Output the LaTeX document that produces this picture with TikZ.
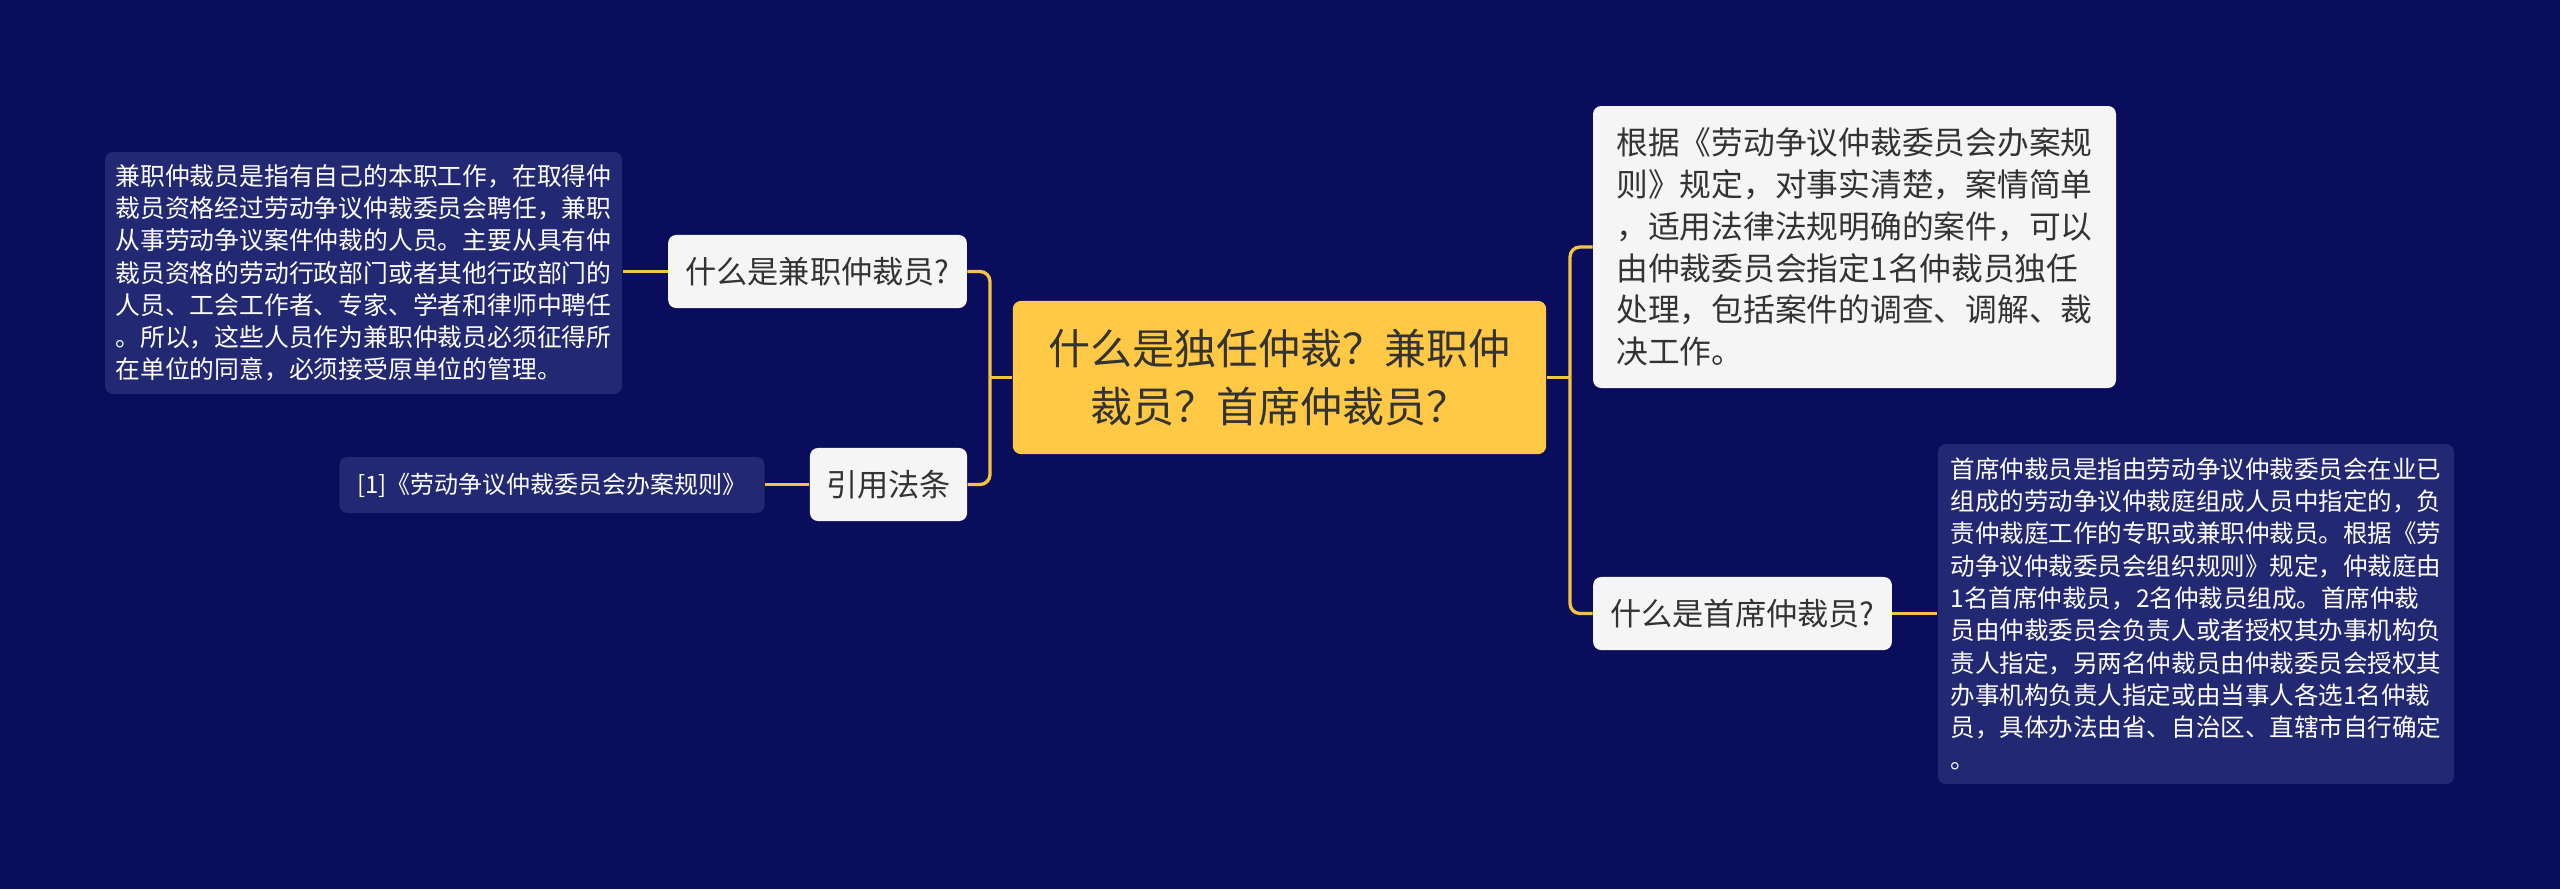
\documentclass[tikz,border=0pt]{standalone}
\usepackage{fontspec}
\newfontfamily\cjk{Noto Sans CJK SC}
\usetikzlibrary{positioning}
\definecolor{mapbg}{HTML}{0A0D5C}
\definecolor{panelblue}{HTML}{232873}
\definecolor{rootyellow}{HTML}{FFC845}
\definecolor{linkyellow}{HTML}{F5C342}
\definecolor{cardwhite}{HTML}{F5F5F5}
\definecolor{inkgray}{HTML}{333333}
\tikzset{
  rootbox/.style={fill=rootyellow,rounded corners=3pt,align=center,text=inkgray,
    minimum width=200pt,minimum height=57.4pt,inner sep=0pt,
    font=\cjk\fontsize{15.75}{22}\selectfont},
  questionbox/.style={fill=cardwhite,rounded corners=3pt,align=center,text=inkgray,
    minimum height=27.4pt,inner sep=0pt,font=\cjk\fontsize{11.7}{14}\selectfont},
  answerbox/.style={fill=cardwhite,rounded corners=3pt,align=left,text=inkgray,
    inner sep=0pt,font=\cjk\fontsize{11.9}{15.7}\selectfont},
  notebox/.style={fill=panelblue,rounded corners=3pt,align=left,text=white,
    inner sep=0pt,font=\cjk\fontsize{9.3}{12.1}\selectfont},
  maplink/.style={draw=linkyellow,line width=1.25pt,rounded corners=3.75pt}
}
\begin{document}
\begin{tikzpicture}[x=0.375pt,y=-0.375pt]
  \fill[mapbg] (0,0) rectangle (2560,889);
  \useasboundingbox (0,0) rectangle (2560,889);
  % root
  \node[rootbox] (root) at (1279.5,377.5) {什么是独任仲裁？兼职仲\\裁员？首席仲裁员？};
  % left branch
  \node[questionbox,minimum width=112pt] (parttime) at (817.5,271.5) {什么是兼职仲裁员?};
  \node[questionbox,minimum width=58.9pt] (lawcite) at (888.5,484.5) {引用法条};
  \node[notebox,minimum width=193.9pt,minimum height=90.75pt] (parttimenote) at (363.5,273)
    {兼职仲裁员是指有自己的本职工作，在取得仲\\裁员资格经过劳动争议仲裁委员会聘任，兼职\\从事劳动争议案件仲裁的人员。主要从具有仲\\裁员资格的劳动行政部门或者其他行政部门的\\人员、工会工作者、专家、学者和律师中聘任\\。所以，这些人员作为兼职仲裁员必须征得所\\在单位的同意，必须接受原单位的管理。};
  \node[notebox,minimum width=159.4pt,minimum height=21pt,
    font=\cjk\fontsize{9}{11}\selectfont] (lawref) at (552,485)
    {[1]《劳动争议仲裁委员会办案规则》};
  % right branch
  \node[answerbox,minimum width=196.1pt,minimum height=105.75pt] (soleanswer) at (1854.5,247)
    {根据《劳动争议仲裁委员会办案规\\则》规定，对事实清楚，案情简单\\，适用法律法规明确的案件，可以\\由仲裁委员会指定1名仲裁员独任\\处理，包括案件的调查、调解、裁\\决工作。};
  \node[questionbox,minimum width=112pt] (chief) at (1742.5,613.5) {什么是首席仲裁员?};
  \node[notebox,minimum width=193.5pt,minimum height=127.5pt,
    font=\cjk\fontsize{9.2}{12.1}\selectfont] (chiefnote) at (2196,614)
    {首席仲裁员是指由劳动争议仲裁委员会在业已\\组成的劳动争议仲裁庭组成人员中指定的，负\\责仲裁庭工作的专职或兼职仲裁员。根据《劳\\动争议仲裁委员会组织规则》规定，仲裁庭由\\1名首席仲裁员，2名仲裁员组成。首席仲裁\\员由仲裁委员会负责人或者授权其办事机构负\\责人指定，另两名仲裁员由仲裁委员会授权其\\办事机构负责人指定或由当事人各选1名仲裁\\员，具体办法由省、自治区、直辖市自行确定\\。};
  % connectors
  \coordinate (leftfork) at (990,377.5);
  \coordinate (rightfork) at (1570,377.5);
  \draw[maplink] (root.west) -- (leftfork);
  \draw[maplink] (leftfork) |- (parttime.east);
  \draw[maplink] (leftfork) |- (lawcite.east);
  \draw[maplink] (root.east) -- (rightfork);
  \draw[maplink] (rightfork) |- (soleanswer.west);
  \draw[maplink] (rightfork) |- (chief.west);
  \draw[maplink] (parttime.west) -- (parttime.west -| parttimenote.east);
  \draw[maplink] (lawcite.west) -- (lawcite.west -| lawref.east);
  \draw[maplink] (chief.east) -- (chief.east -| chiefnote.west);
\end{tikzpicture}
\end{document}
